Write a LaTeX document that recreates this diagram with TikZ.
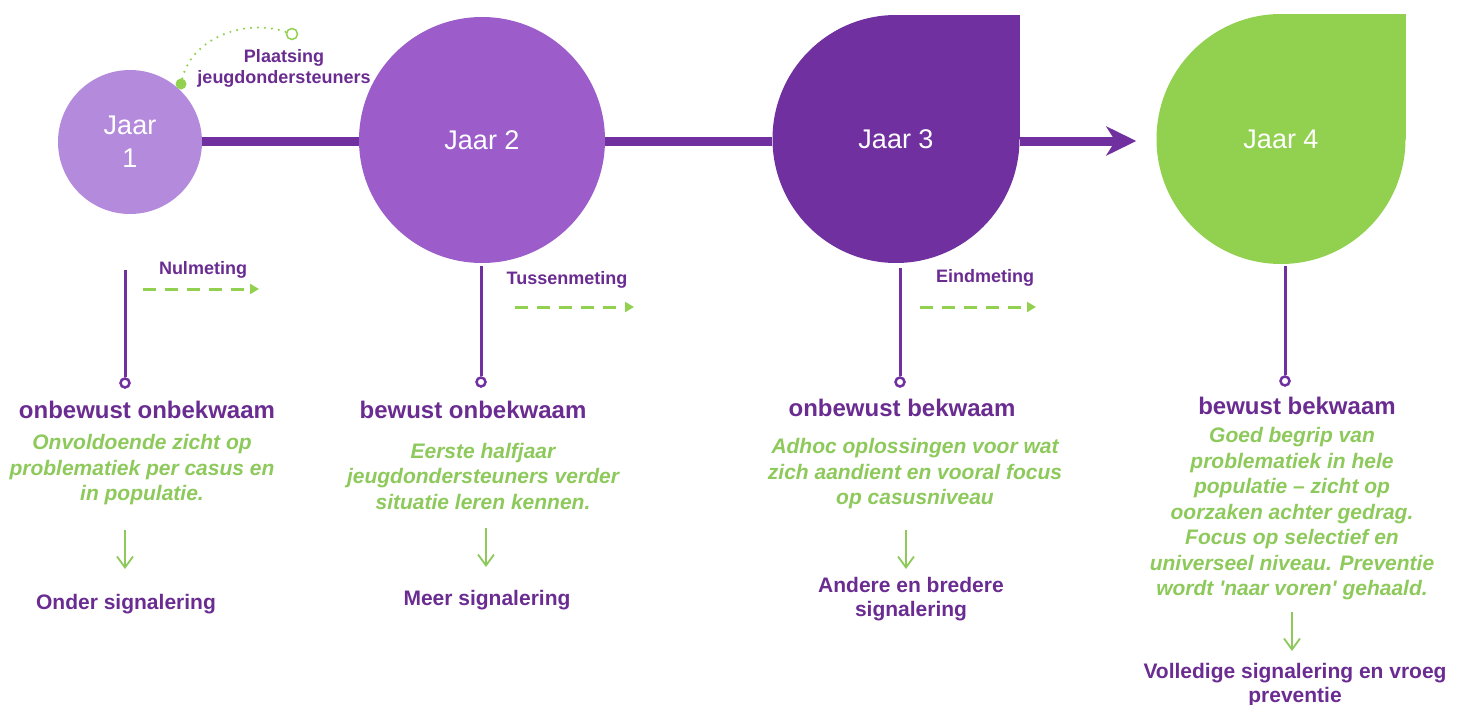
\documentclass[tikz,border=0pt]{standalone}
\usepackage{fontspec}
\setmainfont{Liberation Sans}
\usetikzlibrary{arrows.meta,shapes.geometric,backgrounds}
\definecolor{pA}{HTML}{B48ADC}
\definecolor{pB}{HTML}{9C5DCB}
\definecolor{pC}{HTML}{7030A0}
\definecolor{gA}{HTML}{92D050}
\definecolor{gT}{HTML}{8DC95B}
\definecolor{pT}{HTML}{6A2C91}
\begin{document}
\begin{tikzpicture}[x=1pt,y=-1pt,
  jaar/.style={text=white,font=\fontsize{27}{33}\selectfont,align=center,inner sep=0},
  mainline/.style={draw=pC,line width=9},
  vline/.style={draw=pC,line width=3},
  dotend/.style={circle,draw=pC,line width=2.5,fill=white,minimum size=9,inner sep=0},
  meas/.style={draw=gA,line width=3,dash pattern=on 13pt off 9pt,-{Triangle[length=9,width=10]}},
  downarr/.style={draw=gT,line width=1.8,-{Straight Barb[length=11,width=16]}},
  lbl/.style={text=pT,font=\bfseries\fontsize{18}{21}\selectfont,align=center,inner sep=0},
  head/.style={text=pT,font=\bfseries\fontsize{24}{28}\selectfont,align=center,inner sep=0},
  desc/.style={text=gT,font=\bfseries\itshape\fontsize{21}{25.5}\selectfont,align=center,inner sep=0},
  result/.style={text=pT,font=\bfseries\fontsize{21}{24}\selectfont,align=center,inner sep=0}]
\useasboundingbox (0,0) rectangle (1466,704);

% year shapes
\node[circle,fill=pA,minimum size=144,jaar] (j1) at (130,142) {Jaar\\1};
\node[circle,fill=pB,minimum size=246,jaar] (j2) at (482,140) {Jaar 2};
\node[ellipse,fill=pC,minimum width=247,minimum height=248,jaar] (j3) at (896,139) {Jaar 3};
\node[ellipse,fill=gA,minimum width=249,minimum height=250,jaar] (j4) at (1281,139) {Jaar 4};
\begin{pgfonlayer}{background}
  \fill[pC] (j3.north) rectangle (j3.east);
  \fill[gA] (j4.north) rectangle (j4.east);
  \draw[mainline] (j1.east |- 0,141) -- (j2.west |- 0,141);
  \draw[mainline] (j2.east |- 0,141) -- (j3.west |- 0,141);
\end{pgfonlayer}
\draw[mainline,-{Stealth[length=30,width=29,inset=9]},shorten >=20] (j3.east |- 0,141) -- (j4.west |- 0,141);

% plaatsing
\node[circle,fill=gA,minimum size=11,inner sep=0] (pd1) at (181,84) {};
\node[circle,draw=gA,line width=1.5,fill=white,minimum size=11,inner sep=0] (pd2) at (292,34) {};
\draw[gA,line width=2.4,line cap=round,dash pattern=on 0pt off 7pt] (pd1) .. controls (192,38) and (245,18) .. (pd2);
\node[lbl] (pl) at (284,68) {Plaatsing\\jeugdondersteuners};

% column 1
\coordinate (v1) at (125,270);
\node[dotend] (d1) at (125,383) {};
\draw[vline] (v1) -- (d1);
\node[lbl] (m1) at (203,270) {Nulmeting};
\coordinate (m1a) at (143,289); \coordinate (m1b) at (259,289);
\draw[meas] (m1a) -- (m1b);
\node[head] (h1) at (147,410) {onbewust onbekwaam};
\node[desc] (t1) at (142,470) {Onvoldoende zicht op\\problematiek per casus en\\in populatie.};
\coordinate (a1a) at (125,530); \coordinate (a1b) at (125,569);
\draw[downarr] (a1a) -- (a1b);
\node[result] (r1) at (126,604) {Onder signalering};

% column 2
\coordinate (v2) at (481,266);
\node[dotend] (d2) at (481,382) {};
\draw[vline] (v2) -- (d2);
\node[lbl] (m2) at (567,280) {Tussenmeting};
\coordinate (m2a) at (515,307); \coordinate (m2b) at (634,307);
\draw[meas] (m2a) -- (m2b);
\node[head] (h2) at (473,410) {bewust onbekwaam};
\node[desc] (t2) at (483,476) {Eerste halfjaar\\jeugdondersteuners verder\\situatie leren kennen.};
\coordinate (a2a) at (486,528); \coordinate (a2b) at (486,567);
\draw[downarr] (a2a) -- (a2b);
\node[result] (r2) at (487,600) {Meer signalering};

% column 3
\coordinate (v3) at (900,268);
\node[dotend] (d3) at (900,382) {};
\draw[vline] (v3) -- (d3);
\node[lbl] (m3) at (985,278) {Eindmeting};
\coordinate (m3a) at (920,307); \coordinate (m3b) at (1036,307);
\draw[meas] (m3a) -- (m3b);
\node[head] (h3) at (902,408) {onbewust bekwaam};
\node[desc] (t3) at (915,474) {Adhoc oplossingen voor wat\\zich aandient en vooral focus\\op casusniveau};
\coordinate (a3a) at (906,530); \coordinate (a3b) at (906,569);
\draw[downarr] (a3a) -- (a3b);
\node[result,text height=15,text depth=5] (r3) at (911,611) {Andere en bredere\\signalering};

% column 4
\coordinate (v4) at (1285,266);
\node[dotend] (d4) at (1285,381) {};
\draw[vline] (v4) -- (d4);
\node[head] (h4) at (1297,406) {bewust bekwaam};
\node[desc] (t4) at (1292,514) {Goed begrip van\\problematiek in hele\\populatie – zicht op\\oorzaken achter gedrag.\\Focus op selectief en\\universeel niveau. Preventie\\wordt \textquotesingle naar voren\textquotesingle{} gehaald.};
\coordinate (a4a) at (1292,612); \coordinate (a4b) at (1292,651);
\draw[downarr] (a4a) -- (a4b);
\node[result] (r4) at (1295,685) {Volledige signalering en vroeg\\preventie};
\end{tikzpicture}
\end{document}
